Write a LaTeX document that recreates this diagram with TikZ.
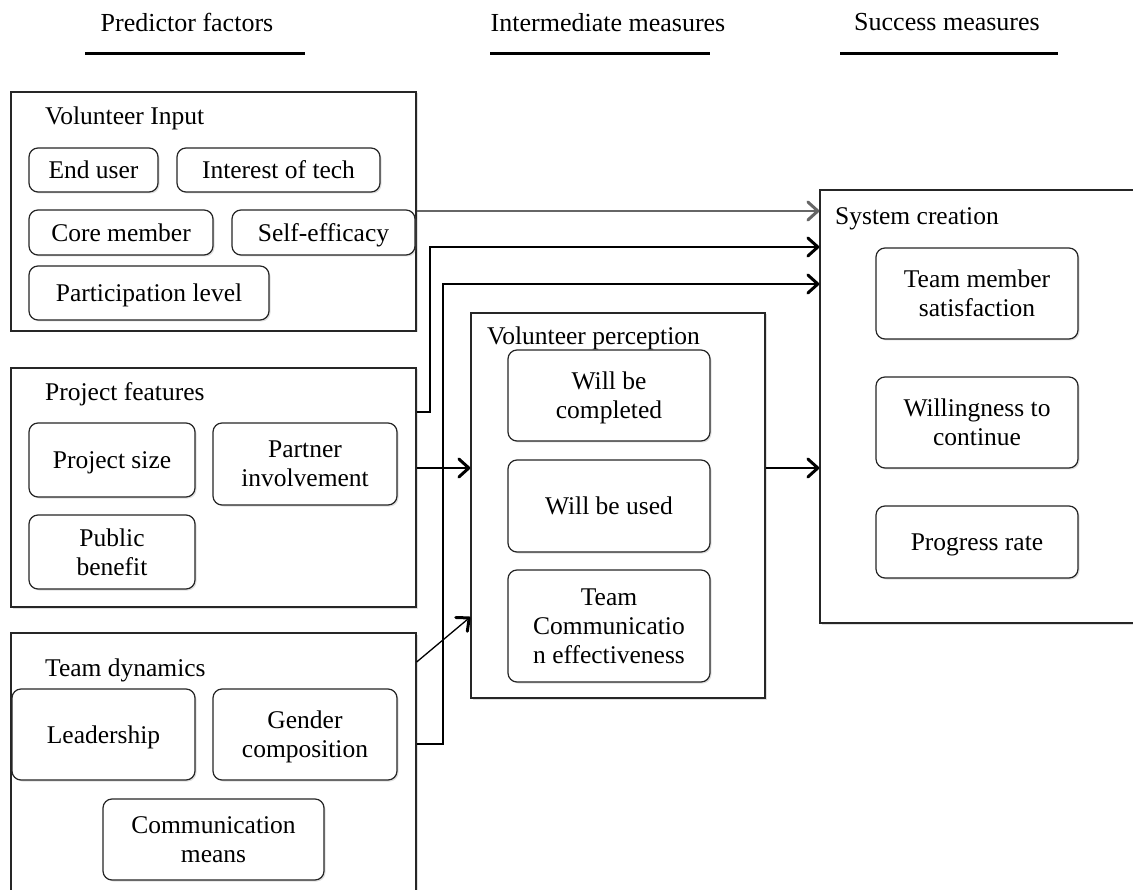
\documentclass[tikz,border=0pt]{standalone}
\usepackage{fontspec}
\setmainfont{Liberation Serif}
\usetikzlibrary{arrows.meta,shadows}
\begin{document}
\begin{tikzpicture}[x=1pt,y=-1pt,
  every node/.style={font=\fontsize{25.5}{29}\selectfont, inner sep=0pt, text depth=0pt},
  gbox/.style={draw=black!85, line width=1.3pt, fill=white, drop shadow={opacity=0.25, shadow xshift=1.5pt, shadow yshift=-1.5pt}},
  rbox/.style={draw=black!85, line width=1.2pt, rounded corners=9pt, fill=white, align=center, drop shadow={opacity=0.25, shadow xshift=1.5pt, shadow yshift=-1.5pt}},
  ttl/.style={anchor=west},
  hdr/.style={font=\fontsize{26}{29}\selectfont},
  uline/.style={line width=3pt, black},
  tip/.style={-{Straight Barb[length=10pt,width=18pt,line width=3pt,round]}},
  arr/.style={line width=1.3pt, tip},
]
\clip (0,0) rectangle (1133,890);
\fill[white] (0,0) rectangle (1133,890);

% headers
\node[hdr] (h1) at (187,22) {Predictor factors};
\node[hdr] (h2) at (608,22) {Intermediate measures};
\node[hdr] (h3) at (947,22) {Success measures};
\draw[uline] (85,54) -- (305,54);
\draw[uline] (490,54) -- (710,54);
\draw[uline] (840,54) -- (1058,54);

% Volunteer Input
\node[gbox, minimum width=405pt, minimum height=239pt] (vi) at (213.5,211.5) {};
\node[ttl] (vit) at (45,116) {Volunteer Input};
\node[rbox, minimum width=129pt, minimum height=44pt] (eu) at (93.5,170) {End user};
\node[rbox, minimum width=203pt, minimum height=44pt] (it) at (278.5,170) {Interest of tech};
\node[rbox, minimum width=184pt, minimum height=45pt] (cm) at (121,232.5) {Core member};
\node[rbox, minimum width=183pt, minimum height=45pt] (se) at (323.5,232.5) {Self-efficacy};
\node[rbox, minimum width=240pt, minimum height=54pt] (pl) at (149,293) {Participation level};

% Project features
\node[gbox, minimum width=405pt, minimum height=239pt] (pf) at (213.5,487.5) {};
\node[ttl] (pft) at (45,392) {Project features};
\node[rbox, minimum width=166pt, minimum height=74pt] (ps) at (112,460) {Project size};
\node[rbox, minimum width=184pt, minimum height=82pt] (pi) at (305,464) {Partner\\involvement};
\node[rbox, minimum width=166pt, minimum height=74pt] (pb) at (112,552) {Public\\benefit};

% Team dynamics
\node[gbox, minimum width=405pt, minimum height=280pt] (td) at (213.5,773) {};
\node[ttl] (tdt) at (45,668) {Team dynamics};
\node[rbox, minimum width=183pt, minimum height=91pt] (ld) at (103.5,734.5) {Leadership};
\node[rbox, minimum width=184pt, minimum height=91pt] (gc) at (305,734.5) {Gender\\composition};
\node[rbox, minimum width=221pt, minimum height=81pt] (cmm) at (213.5,839.5) {Communication\\means};

% Volunteer perception
\node[gbox, minimum width=294pt, minimum height=385pt] (vp) at (618,505.5) {};
\node[ttl] (vpt) at (487,336) {Volunteer perception};
\node[rbox, minimum width=202pt, minimum height=91pt] (wc) at (609,395.5) {Will be\\completed};
\node[rbox, minimum width=202pt, minimum height=92pt] (wu) at (609,506) {Will be used};
\node[rbox, minimum width=202pt, minimum height=112pt] (tc) at (609,626) {Team\\Communicatio\\n effectiveness};

% System creation
\node[gbox, minimum width=314pt, minimum height=433pt] (sc) at (977,406.5) {};
\node[ttl] (sct) at (835,216) {System creation};
\node[rbox, minimum width=202pt, minimum height=91pt] (tm) at (977,293.5) {Team member\\satisfaction};
\node[rbox, minimum width=202pt, minimum height=91pt] (wt) at (977,422.5) {Willingness to\\continue};
\node[rbox, minimum width=202pt, minimum height=72pt] (pr) at (977,542) {Progress rate};

% connectors
\coordinate (a1) at (vi.east |- 0,211);
\coordinate (b1) at (sc.west |- 0,211);
\draw[arr, line width=2.2pt, draw=black!60] (a1) -- (b1);

\coordinate (a2) at (pf.east |- 0,412);
\coordinate (b2) at (sc.west |- 0,247);
\draw[arr] (a2) -- (430,412) -- (430,247) -- (b2);

\coordinate (a3) at (td.east |- 0,744);
\coordinate (b3) at (sc.west |- 0,284);
\draw[arr] (a3) -- (443,744) -- (443,284) -- (b3);

\coordinate (a4) at (pf.east |- 0,468);
\coordinate (b4) at (vp.west |- 0,468);
\draw[arr] (a4) -- (b4);

\coordinate (a5) at (td.east |- 0,662);
\coordinate (b5) at (vp.west |- 0,617);
\draw[arr] (a5) -- (b5);

\coordinate (a6) at (vp.east |- 0,468);
\coordinate (b6) at (sc.west |- 0,468);
\draw[arr] (a6) -- (b6);
\end{tikzpicture}
\end{document}
